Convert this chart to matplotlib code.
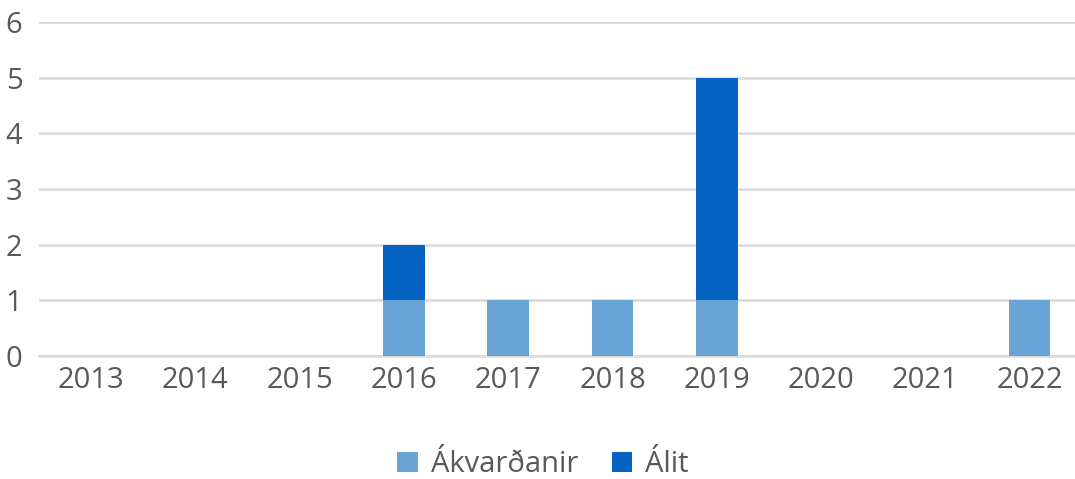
import matplotlib.pyplot as plt
import numpy as np

years = ["2013", "2014", "2015", "2016", "2017", "2018", "2019", "2020", "2021", "2022"]
akvardanir = [0, 0, 0, 1, 1, 1, 1, 0, 0, 1]
alit = [0, 0, 0, 1, 0, 0, 4, 0, 0, 0]

plt.rcParams['font.family'] = ['Open Sans', 'DejaVu Sans']
txt = "#595959"

fig = plt.figure(figsize=(10.75, 4.79), dpi=100)
ax = fig.add_axes([0.0363, 0.257, 0.970, 0.697])

x = np.arange(len(years))
w = 0.4
ax.bar(x, akvardanir, w, color="#6aa4d6", label="Ákvarðanir", zorder=3)
ax.bar(x, alit, w, bottom=akvardanir, color="#0563c1", label="Álit", zorder=3)

ax.set_xlim(-0.5, len(years) - 0.5)
ax.set_ylim(0, 6)
ax.set_yticks(range(7))
ax.set_xticks(x)
ax.set_xticklabels(years)
ax.yaxis.grid(True, color="#d9d9d9", linewidth=1.8, zorder=0)
for s in ["top", "right", "left"]:
    ax.spines[s].set_visible(False)
ax.spines["bottom"].set_color("#d9d9d9")
ax.spines["bottom"].set_linewidth(1.8)
ax.tick_params(axis="both", length=0, labelsize=21, colors=txt)
ax.tick_params(axis="x", pad=7)
ax.tick_params(axis="y", pad=12)

fig.legend(loc="center", bbox_to_anchor=(0.505, 0.03), ncol=2, frameon=False,
           fontsize=21, labelcolor=txt, handlelength=0.7, handleheight=0.7,
           handletextpad=0.45, columnspacing=1.15)

fig.savefig("out.png", dpi=100)
